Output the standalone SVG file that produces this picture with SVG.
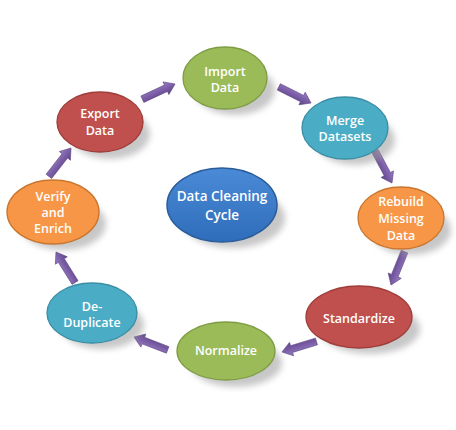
<svg xmlns="http://www.w3.org/2000/svg" xmlns:xlink="http://www.w3.org/1999/xlink" width="456" height="430" viewBox="0 0 456 430">
<defs>
<style>
.lbl{font-family:"Open Sans","Liberation Sans",sans-serif;font-weight:600;font-size:12.5px;fill:#ffffff;text-anchor:middle}
.big{font-size:13.5px}
.sh{fill:#9a9a9a;opacity:0.55;filter:url(#blur)}
.green{fill:#9BBB59;stroke:#7E9C45;stroke-width:1.3}
.teal{fill:#4BACC6;stroke:#3A8EA5;stroke-width:1.3}
.red{fill:#C0504D;stroke:#9E3D3A;stroke-width:1.3}
.orange{fill:#F79646;stroke:#C9762F;stroke-width:1.3}
.blue{fill:url(#gb);stroke:#2A5C9A;stroke-width:1.5}
.arr{fill:url(#ga);stroke:#5E4684;stroke-width:0.6}
</style>
<filter id="blur" x="-30%" y="-30%" width="160%" height="160%"><feGaussianBlur stdDeviation="3"/></filter>
<linearGradient id="gb" x1="0" y1="0" x2="0" y2="1"><stop offset="0" stop-color="#4A8AD6"/><stop offset="1" stop-color="#2F6DBA"/></linearGradient>
<linearGradient id="ga" x1="0" y1="0" x2="0" y2="1"><stop offset="0" stop-color="#9A7FC4"/><stop offset="0.5" stop-color="#7B5EA7"/><stop offset="1" stop-color="#5E4487"/></linearGradient>
<path id="arr" d="M0,0 L-10,-7 L-10,-3.5 L-36,-3.5 L-36,3.5 L-10,3.5 L-10,7 Z"/>
</defs>
<rect width="456" height="430" fill="#ffffff"/>
<g id="connectors">
<use xlink:href="#arr" class="arr" transform="translate(175,84) rotate(-25)"/>
<use xlink:href="#arr" class="arr" transform="translate(311,103) rotate(26.6)"/>
<use xlink:href="#arr" class="arr" transform="translate(392,183) rotate(62)"/>
<use xlink:href="#arr" class="arr" transform="translate(391,285) rotate(112)"/>
<use xlink:href="#arr" class="arr" transform="translate(282,352) rotate(163)"/>
<use xlink:href="#arr" class="arr" transform="translate(134,337) rotate(201)"/>
<use xlink:href="#arr" class="arr" transform="translate(56,252) rotate(238)"/>
<use xlink:href="#arr" class="arr" transform="translate(71,148) rotate(-52)"/>
</g>
<g id="import">
<ellipse class="sh" cx="235" cy="90" rx="40" ry="25"/>
<ellipse class="green" cx="225" cy="78" rx="42" ry="31"/>
<text class="lbl" x="225" y="76">Import</text><text class="lbl" x="225" y="92">Data</text>
</g>
<g id="merge">
<ellipse class="sh" cx="355" cy="140" rx="40" ry="25"/>
<ellipse class="teal" cx="345" cy="128" rx="43" ry="31"/>
<text class="lbl" x="345" y="125">Merge</text><text class="lbl" x="345" y="141">Datasets</text>
</g>
<g id="rebuild">
<ellipse class="sh" cx="411" cy="230" rx="40" ry="25"/>
<ellipse class="orange" cx="401" cy="218" rx="43" ry="31"/>
<text class="lbl" x="401" y="206">Rebuild</text><text class="lbl" x="401" y="223">Missing</text><text class="lbl" x="401" y="240">Data</text>
</g>
<g id="standardize">
<ellipse class="sh" cx="370" cy="329" rx="50" ry="25"/>
<ellipse class="red" cx="359" cy="317" rx="53" ry="31"/>
<text class="lbl" x="359" y="323">Standardize</text>
</g>
<g id="normalize">
<ellipse class="sh" cx="236" cy="363" rx="46" ry="24"/>
<ellipse class="green" cx="226" cy="351" rx="49" ry="29"/>
<text class="lbl" x="226" y="355">Normalize</text>
</g>
<g id="deduplicate">
<ellipse class="sh" cx="102" cy="325" rx="42" ry="24"/>
<ellipse class="teal" cx="92" cy="313" rx="45" ry="30"/>
<text class="lbl" x="92" y="311">De-</text><text class="lbl" x="92" y="327">Duplicate</text>
</g>
<g id="verify">
<ellipse class="sh" cx="63" cy="224" rx="43" ry="26"/>
<ellipse class="orange" cx="53" cy="212" rx="46" ry="32"/>
<text class="lbl" x="53" y="201">Verify</text><text class="lbl" x="53" y="217">and</text><text class="lbl" x="53" y="233">Enrich</text>
</g>
<g id="export">
<ellipse class="sh" cx="110" cy="134" rx="40" ry="25"/>
<ellipse class="red" cx="100" cy="122" rx="43" ry="30"/>
<text class="lbl" x="100" y="118">Export</text><text class="lbl" x="100" y="135">Data</text>
</g>
<g id="center">
<ellipse class="sh" cx="233" cy="218" rx="52" ry="30"/>
<ellipse class="blue" cx="222" cy="205" rx="55" ry="37"/>
<text class="lbl big" x="222" y="201">Data Cleaning</text><text class="lbl big" x="222" y="220">Cycle</text>
</g>
</svg>
